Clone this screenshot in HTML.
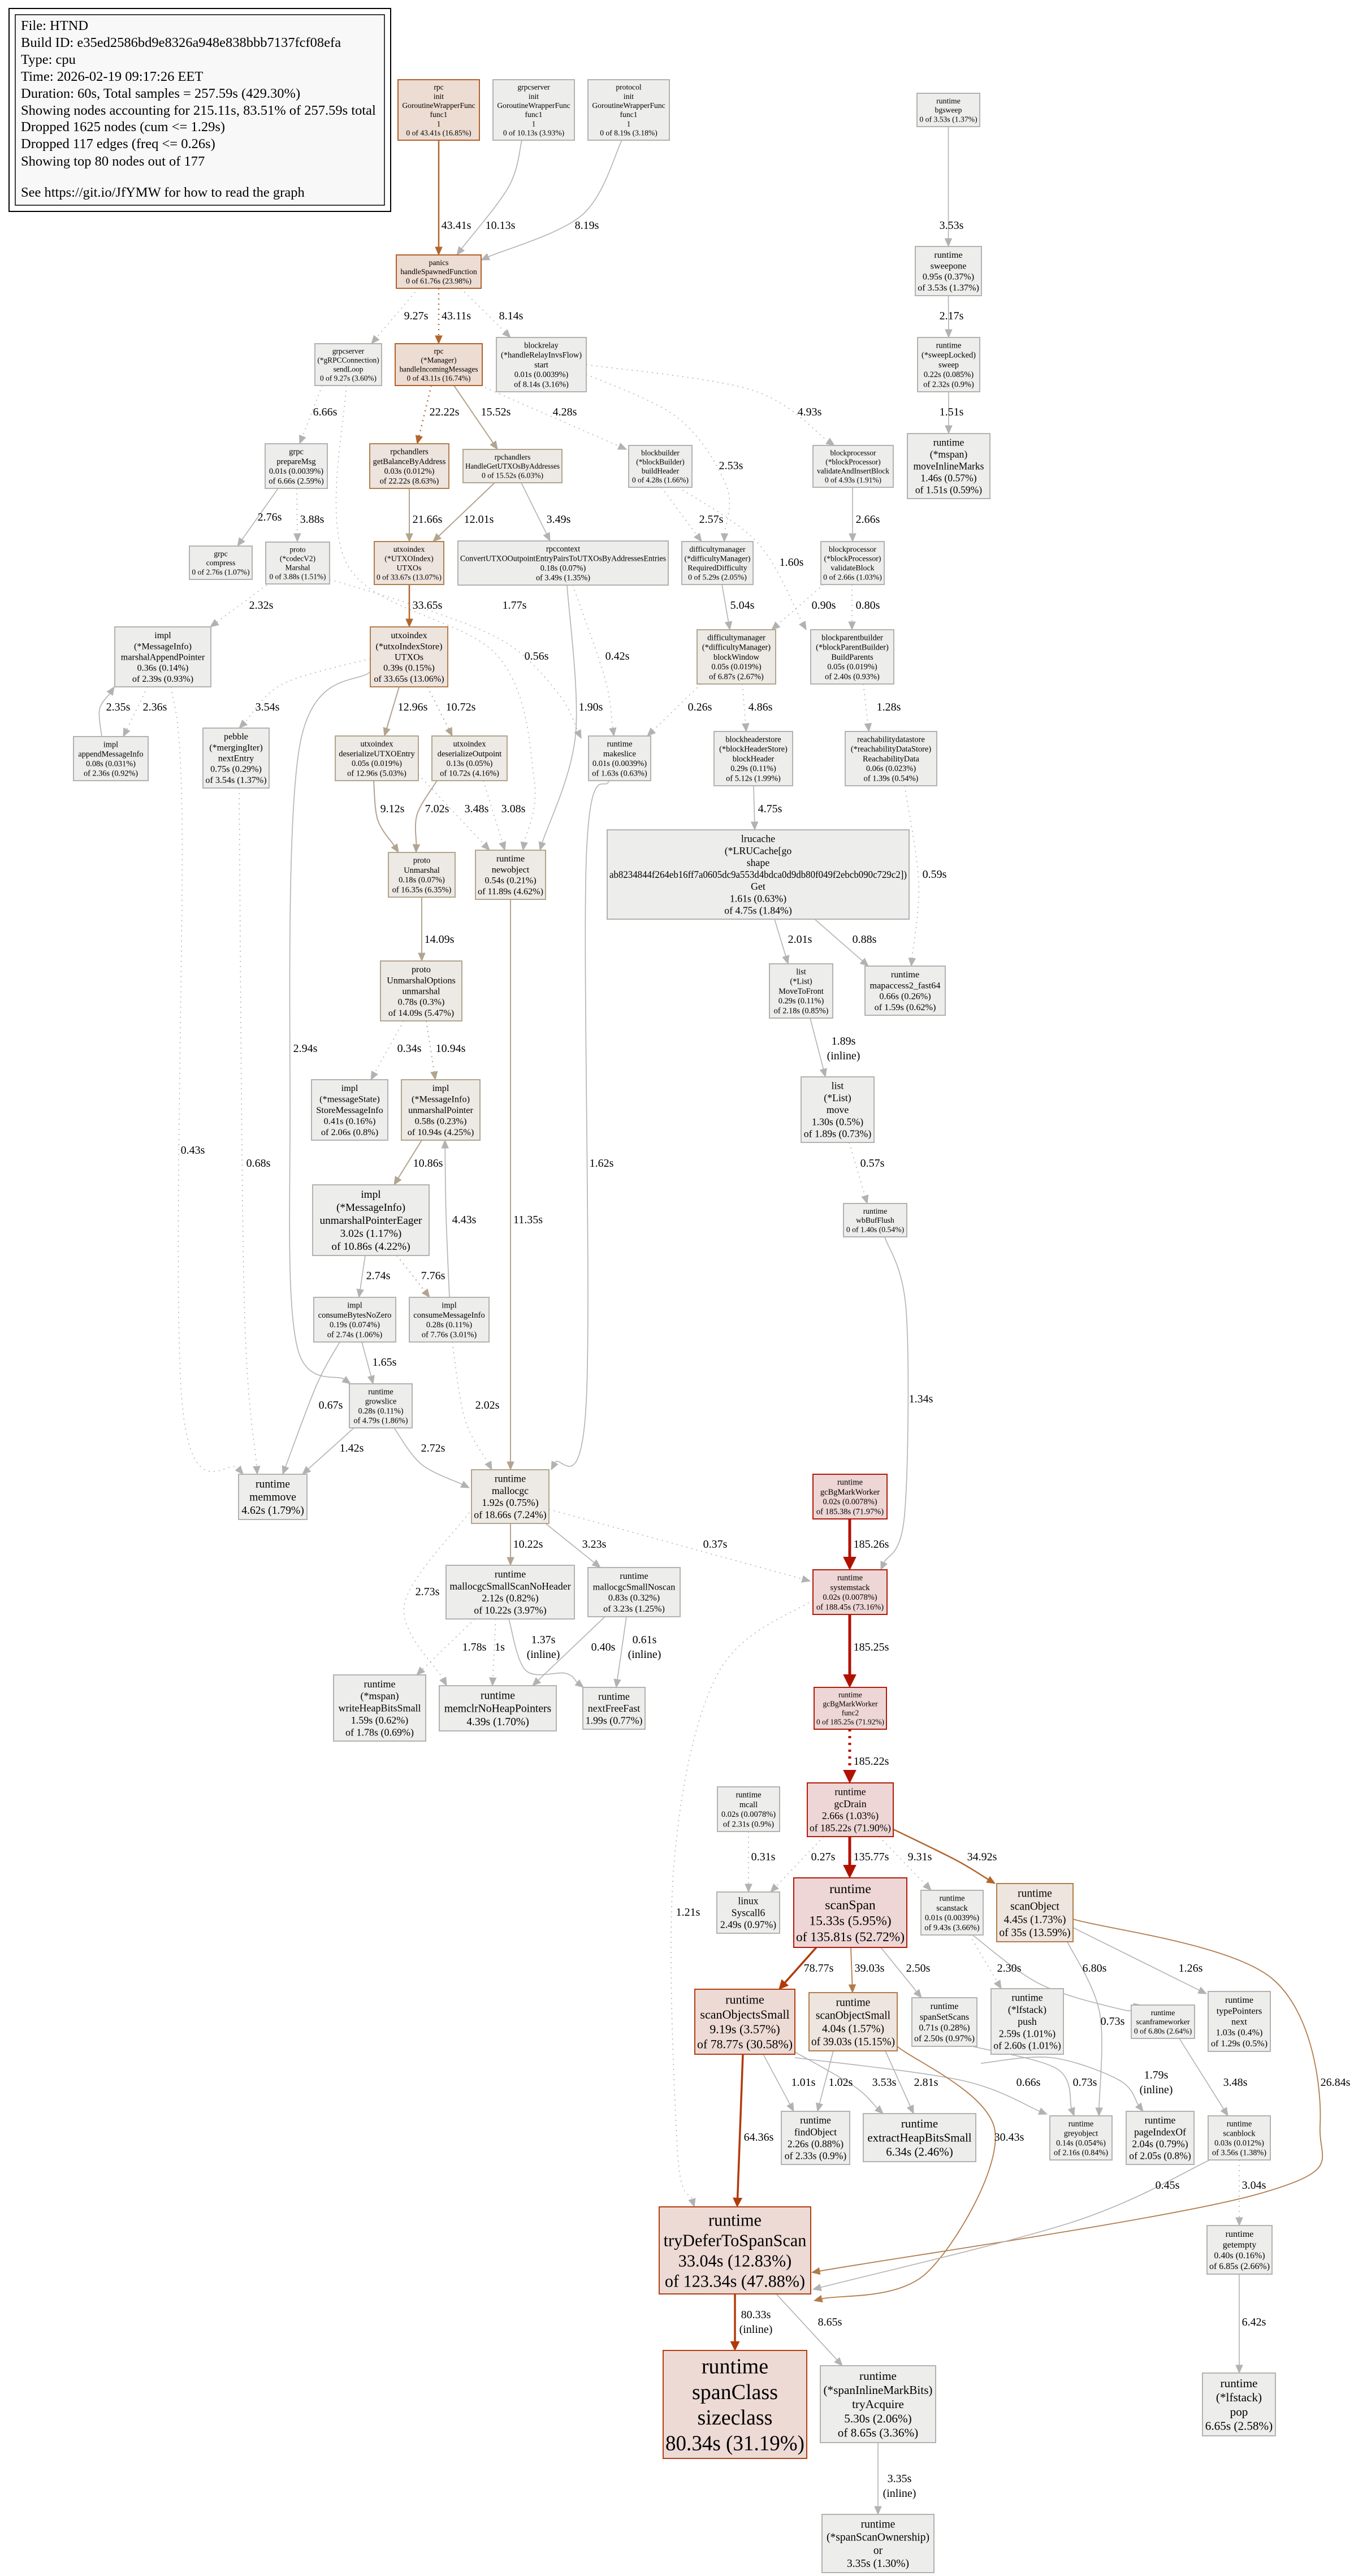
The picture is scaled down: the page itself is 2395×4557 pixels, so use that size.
<!DOCTYPE html>
<html><head><meta charset="utf-8">
<style>
html,body{margin:0;padding:0;background:#fff;}
svg{display:block;}
text{font-family:"Liberation Serif","DejaVu Serif",serif;fill:#000;}
</style></head>
<body>
<svg id="g" xmlns="http://www.w3.org/2000/svg" width="2395" height="4557" viewBox="0 0 2395 4557">
<rect x="0" y="0" width="2395" height="4557" fill="#fff"/>
<rect x="16" y="15" width="675" height="359" fill="#fff" stroke="#000" stroke-width="2"/>
<rect x="27" y="26" width="653" height="337" fill="#f8f8f8" stroke="#000" stroke-width="1.5"/>
<g font-size="24.5">
<text x="37" y="53">File: HTND</text>
<text x="37" y="83">Build ID: e35ed2586bd9e8326a948e838bbb7137fcf08efa</text>
<text x="37" y="113">Type: cpu</text>
<text x="37" y="143">Time: 2026-02-19 09:17:26 EET</text>
<text x="37" y="173">Duration: 60s, Total samples = 257.59s (429.30%)</text>
<text x="37" y="203">Showing nodes accounting for 215.11s, 83.51% of 257.59s total</text>
<text x="37" y="232">Dropped 1625 nodes (cum &lt;= 1.29s)</text>
<text x="37" y="262">Dropped 117 edges (freq &lt;= 0.26s)</text>
<text x="37" y="293">Showing top 80 nodes out of 177</text>
<text x="37" y="348">See https://git.io/JfYMW for how to read the graph</text>
</g>
<g id="edges"></g>
<g id="nodes"></g>
<g id="labels"></g>
</svg>
<script>
var NS="http://www.w3.org/2000/svg";
var ST={
g:["#ededec","#b2b2b2"],t:["#ede9e4","#b2a58f"],o:["#eddcd2","#b2612b"],
m:["#ede4dd","#b27e4e"],r:["#edd6d5","#b21a0a"],d:["#eddad5","#b23f12"],l:["#ede5de","#b27d4a"]};
var N={
rpcinit:[704,141,848,248,"o","rpc|init|GoroutineWrapperFunc|func1|1|0 of 43.41s (16.85%)"],
grpcinit:[872,141,1016,248,"g","grpcserver|init|GoroutineWrapperFunc|func1|1|0 of 10.13s (3.93%)"],
protoinit:[1040,141,1184,248,"g","protocol|init|GoroutineWrapperFunc|func1|1|0 of 8.19s (3.18%)"],
bgsweep:[1622,165,1733,224,"g","runtime|bgsweep|0 of 3.53s (1.37%)"],
panics:[701,451,851,510,"o","panics|handleSpawnedFunction|0 of 61.76s (23.98%)"],
sweepone:[1619,436,1736,523,"g","runtime|sweepone|0.95s (0.37%)|of 3.53s (1.37%)"],
sendLoop:[557,608,675,682,"g","grpcserver|(*gRPCConnection)|sendLoop|0 of 9.27s (3.60%)"],
manager:[699,608,853,682,"o","rpc|(*Manager)|handleIncomingMessages|0 of 43.11s (16.74%)"],
blockrelay:[878,597,1037,693,"g","blockrelay|(*handleRelayInvsFlow)|start|0.01s (0.0039%)|of 8.14s (3.16%)"],
sweepLocked:[1623,597,1733,693,"g","runtime|(*sweepLocked)|sweep|0.22s (0.085%)|of 2.32s (0.9%)"],
prepareMsg:[469,785,579,864,"g","grpc|prepareMsg|0.01s (0.0039%)|of 6.66s (2.59%)"],
getBalance:[654,785,794,864,"m","rpchandlers|getBalanceByAddress|0.03s (0.012%)|of 22.22s (8.63%)"],
handleGet:[819,795,994,854,"t","rpchandlers|HandleGetUTXOsByAddresses|0 of 15.52s (6.03%)"],
blockbuilder:[1112,788,1224,862,"g","blockbuilder|(*blockBuilder)|buildHeader|0 of 4.28s (1.66%)"],
vaib:[1438,788,1580,862,"g","blockprocessor|(*blockProcessor)|validateAndInsertBlock|0 of 4.93s (1.91%)"],
moveInline:[1605,767,1751,882,"g","runtime|(*mspan)|moveInlineMarks|1.46s (0.57%)|of 1.51s (0.59%)"],
compress:[335,966,446,1025,"g","grpc|compress|0 of 2.76s (1.07%)"],
codecV2:[470,959,583,1033,"g","proto|(*codecV2)|Marshal|0 of 3.88s (1.51%)"],
utxoIndex:[662,958,785,1034,"m","utxoindex|(*UTXOIndex)|UTXOs|0 of 33.67s (13.07%)"],
rpccontext:[810,957,1182,1035,"g","rpccontext|ConvertUTXOOutpointEntryPairsToUTXOsByAddressesEntries|0.18s (0.07%)|of 3.49s (1.35%)"],
reqDiff:[1206,958,1332,1034,"g","difficultymanager|(*difficultyManager)|RequiredDifficulty|0 of 5.29s (2.05%)"],
validateBlock:[1452,958,1564,1034,"g","blockprocessor|(*blockProcessor)|validateBlock|0 of 2.66s (1.03%)"],
marshalAppend:[203,1109,373,1215,"g","impl|(*MessageInfo)|marshalAppendPointer|0.36s (0.14%)|of 2.39s (0.93%)"],
utxoStore:[655,1109,792,1215,"m","utxoindex|(*utxoIndexStore)|UTXOs|0.39s (0.15%)|of 33.65s (13.06%)"],
blockWindow:[1233,1114,1372,1210,"t","difficultymanager|(*difficultyManager)|blockWindow|0.05s (0.019%)|of 6.87s (2.67%)"],
bpb:[1434,1114,1581,1210,"g","blockparentbuilder|(*blockParentBuilder)|BuildParents|0.05s (0.019%)|of 2.40s (0.93%)"],
appendMsg:[130,1303,262,1381,"g","impl|appendMessageInfo|0.08s (0.031%)|of 2.36s (0.92%)"],
pebble:[359,1288,476,1394,"g","pebble|(*mergingIter)|nextEntry|0.75s (0.29%)|of 3.54s (1.37%)"],
desUTXO:[593,1302,740,1381,"t","utxoindex|deserializeUTXOEntry|0.05s (0.019%)|of 12.96s (5.03%)"],
desOut:[764,1302,897,1381,"t","utxoindex|deserializeOutpoint|0.13s (0.05%)|of 10.72s (4.16%)"],
makeslice:[1041,1302,1151,1381,"g","runtime|makeslice|0.01s (0.0039%)|of 1.63s (0.63%)"],
bhs:[1263,1294,1402,1390,"g","blockheaderstore|(*blockHeaderStore)|blockHeader|0.29s (0.11%)|of 5.12s (1.99%)"],
reach:[1495,1294,1657,1390,"g","reachabilitydatastore|(*reachabilityDataStore)|ReachabilityData|0.06s (0.023%)|of 1.39s (0.54%)"],
lru:[1074,1468,1608,1626,"g","lrucache|(*LRUCache[go|shape|ab8234844f264eb16ff7a0605dc9a553d4bdca0d9db80f049f2ebcb090c729c2])|Get|1.61s (0.63%)|of 4.75s (1.84%)"],
protoUnm:[687,1508,805,1587,"t","proto|Unmarshal|0.18s (0.07%)|of 16.35s (6.35%)"],
newobject:[841,1504,965,1591,"t","runtime|newobject|0.54s (0.21%)|of 11.89s (4.62%)"],
unmOpts:[673,1700,817,1806,"t","proto|UnmarshalOptions|unmarshal|0.78s (0.3%)|of 14.09s (5.47%)"],
moveToFront:[1361,1705,1473,1801,"g","list|(*List)|MoveToFront|0.29s (0.11%)|of 2.18s (0.85%)"],
mapaccess:[1530,1709,1672,1796,"g","runtime|mapaccess2_fast64|0.66s (0.26%)|of 1.59s (0.62%)"],
storeMsg:[551,1910,686,2017,"g","impl|(*messageState)|StoreMessageInfo|0.41s (0.16%)|of 2.06s (0.8%)"],
unmPtr:[710,1910,849,2017,"t","impl|(*MessageInfo)|unmarshalPointer|0.58s (0.23%)|of 10.94s (4.25%)"],
listMove:[1417,1905,1546,2021,"g","list|(*List)|move|1.30s (0.5%)|of 1.89s (0.73%)"],
unmEager:[553,2096,759,2221,"g","impl|(*MessageInfo)|unmarshalPointerEager|3.02s (1.17%)|of 10.86s (4.22%)"],
wbBuf:[1492,2129,1604,2188,"g","runtime|wbBufFlush|0 of 1.40s (0.54%)"],
consBytes:[555,2295,700,2374,"g","impl|consumeBytesNoZero|0.19s (0.074%)|of 2.74s (1.06%)"],
consMsg:[724,2295,865,2374,"g","impl|consumeMessageInfo|0.28s (0.11%)|of 7.76s (3.01%)"],
growslice:[618,2448,729,2526,"g","runtime|growslice|0.28s (0.11%)|of 4.79s (1.86%)"],
memmove:[422,2608,543,2688,"g","runtime|memmove|4.62s (1.79%)"],
mallocgc:[834,2600,971,2695,"t","runtime|mallocgc|1.92s (0.75%)|of 18.66s (7.24%)"],
gcBgMark:[1438,2608,1569,2687,"r","runtime|gcBgMarkWorker|0.02s (0.0078%)|of 185.38s (71.97%)"],
scanNoHeader:[789,2769,1016,2864,"g","runtime|mallocgcSmallScanNoHeader|2.12s (0.82%)|of 10.22s (3.97%)"],
noscan:[1040,2773,1203,2860,"g","runtime|mallocgcSmallNoscan|0.83s (0.32%)|of 3.23s (1.25%)"],
systemstack:[1438,2777,1569,2856,"r","runtime|systemstack|0.02s (0.0078%)|of 188.45s (73.16%)"],
writeHeap:[590,2963,753,3080,"g","runtime|(*mspan)|writeHeapBitsSmall|1.59s (0.62%)|of 1.78s (0.69%)"],
memclr:[777,2982,984,3062,"g","runtime|memclrNoHeapPointers|4.39s (1.70%)"],
nextFree:[1031,2985,1141,3059,"g","runtime|nextFreeFast|1.99s (0.77%)"],
func2:[1440,2985,1568,3059,"r","runtime|gcBgMarkWorker|func2|0 of 185.25s (71.92%)"],
mcall:[1269,3161,1379,3240,"g","runtime|mcall|0.02s (0.0078%)|of 2.31s (0.9%)"],
gcDrain:[1428,3154,1580,3249,"r","runtime|gcDrain|2.66s (1.03%)|of 185.22s (71.90%)"],
syscall:[1268,3347,1379,3420,"g","linux|Syscall6|2.49s (0.97%)"],
scanSpan:[1404,3322,1604,3445,"r","runtime|scanSpan|15.33s (5.95%)|of 135.81s (52.72%)"],
scanstack:[1629,3344,1739,3423,"g","runtime|scanstack|0.01s (0.0039%)|of 9.43s (3.66%)"],
scanObject:[1763,3332,1898,3435,"l","runtime|scanObject|4.45s (1.73%)|of 35s (13.59%)"],
scanObjsSmall:[1229,3519,1406,3634,"d","runtime|scanObjectsSmall|9.19s (3.57%)|of 78.77s (30.58%)"],
scanObjSmall:[1431,3525,1587,3628,"l","runtime|scanObjectSmall|4.04s (1.57%)|of 39.03s (15.15%)"],
spanSetScans:[1613,3534,1728,3620,"g","runtime|spanSetScans|0.71s (0.28%)|of 2.50s (0.97%)"],
lfpush:[1753,3518,1881,3634,"g","runtime|(*lfstack)|push|2.59s (1.01%)|of 2.60s (1.01%)"],
sfw:[2001,3547,2113,3606,"g","runtime|scanframeworker|0 of 6.80s (2.64%)"],
typePtr:[2137,3523,2247,3629,"g","runtime|typePointers|next|1.03s (0.4%)|of 1.29s (0.5%)"],
findObject:[1382,3735,1503,3829,"g","runtime|findObject|2.26s (0.88%)|of 2.33s (0.9%)"],
extract:[1527,3739,1726,3824,"g","runtime|extractHeapBitsSmall|6.34s (2.46%)"],
greyobject:[1857,3743,1967,3821,"g","runtime|greyobject|0.14s (0.054%)|of 2.16s (0.84%)"],
pageIndex:[1992,3735,2112,3829,"g","runtime|pageIndexOf|2.04s (0.79%)|of 2.05s (0.8%)"],
scanblock:[2137,3743,2247,3821,"g","runtime|scanblock|0.03s (0.012%)|of 3.56s (1.38%)"],
tryDefer:[1166,3904,1434,4058,"d","runtime|tryDeferToSpanScan|33.04s (12.83%)|of 123.34s (47.88%)"],
getempty:[2135,3937,2250,4023,"g","runtime|getempty|0.40s (0.16%)|of 6.85s (2.66%)"],
spanClass:[1173,4158,1427,4349,"d","runtime|spanClass|sizeclass|80.34s (31.19%)"],
tryAcquire:[1451,4185,1655,4321,"g","runtime|(*spanInlineMarkBits)|tryAcquire|5.30s (2.06%)|of 8.65s (3.36%)"],
lfpop:[2127,4198,2256,4309,"g","runtime|(*lfstack)|pop|6.65s (2.58%)"],
spanScanOwn:[1454,4448,1652,4551,"g","runtime|(*spanScanOwnership)|or|3.35s (1.30%)"]
};
var EK={g:["#b2b2b2",1.6,0],gd:["#b2b2b2",1.6,1],t:["#b2a48f",2,0],td:["#b2a48f",2,1],
o:["#b2652c",2.5,0],od:["#b2652c",2.5,1],l:["#b27b4a",1.8,0],r:["#b21100",5,0],rd:["#b21100",5,1],R:["#b23a0a",3.5,0]};
var E=[
["rpcinit","panics","o","43.41s",807,398,[776,248],[776,451]],
["grpcinit","panics","g","10.13s",885,398,[923,248],[808,451],[[900,330]]],
["protoinit","panics","g","8.19s",1038,398,[1100,248],[851,460],[[1030,380]]],
["bgsweep","sweepone","g","3.53s",1683,398],
["sweepone","sweepLocked","g","2.17s",1683,558],
["sweepLocked","moveInline","g","1.51s",1683,728],
["panics","sendLoop","gd","9.27s",736,558,[740,510],[657,608]],
["panics","manager","od","43.11s",807,558,[776,510],[776,608]],
["panics","blockrelay","gd","8.14s",904,558,[815,510],[903,597]],
["sendLoop","prepareMsg","gd","6.66s",575,728,[570,682],[530,785]],
["manager","getBalance","od","22.22s",786,728,[763,682],[738,785]],
["manager","handleGet","t","15.52s",877,728,[803,682],[880,795]],
["manager","blockbuilder","gd","4.28s",999,728,[850,682],[1108,795]],
["blockrelay","vaib","gd","4.93s",1432,728,[1037,645],[1476,788],[[1330,690]]],
["blockrelay","reqDiff","gd","2.53s",1293,823,[1037,662],[1281,958],[[1200,740],[1285,860]]],
["blockbuilder","reqDiff","gd","2.57s",1258,918,[1170,862],[1241,958]],
["blockbuilder","bpb","gd","1.60s",1400,994,[1200,862],[1426,1114],[[1340,960]]],
["vaib","validateBlock","g","2.66s",1535,918,[1508,862],[1508,958]],
["prepareMsg","compress","g","2.76s",477,914,[492,864],[420,966]],
["prepareMsg","codecV2","gd","3.88s",552,918,[525,864],[526,958]],
["getBalance","utxoIndex","t","21.66s",756,918,[724,864],[724,958]],
["handleGet","utxoIndex","t","12.01s",847,918,[875,854],[766,958]],
["handleGet","rpccontext","g","3.49s",988,918,[922,854],[973,957]],
["reqDiff","blockWindow","g","5.04s",1313,1070,[1277,1034],[1291,1114]],
["validateBlock","blockWindow","gd","0.90s",1457,1070,[1457,1034],[1365,1114]],
["validateBlock","bpb","gd","0.80s",1535,1070,[1507,1034],[1507,1114]],
["codecV2","marshalAppend","gd","2.32s",462,1070,[472,1035],[372,1109]],
["codecV2","makeslice","gd","1.77s",910,1070,[583,1025],[1028,1306],[[760,1080],[900,1140],[990,1230]]],
["sendLoop","newobject","gd","0.56s",949,1160,[612,682],[925,1504],[[615,1000],[880,1160],[945,1380]]],
["utxoIndex","utxoStore","o","33.65s",756,1070,[724,1034],[724,1109]],
["rpccontext","newobject","g","1.90s",1045,1250,[1003,1035],[955,1504],[[1018,1300]]],
["rpccontext","makeslice","gd","0.42s",1092,1160,[1013,1035],[1086,1302],[[1070,1200]]],
["blockWindow","makeslice","gd","0.26s",1238,1250,[1240,1210],[1145,1302]],
["blockWindow","bhs","gd","4.86s",1345,1250,[1313,1210],[1320,1294]],
["bpb","reach","gd","1.28s",1572,1250,[1527,1210],[1537,1294]],
["appendMsg","marshalAppend","g","2.35s",209,1250,[180,1303],[202,1215],[[176,1255]]],
["marshalAppend","appendMsg","gd","2.36s",274,1250,[261,1215],[218,1303]],
["utxoStore","pebble","gd","3.54s",473,1250,[655,1165],[423,1288],[[500,1210]]],
["utxoStore","desUTXO","t","12.96s",730,1250,[706,1215],[680,1302]],
["utxoStore","desOut","td","10.72s",815,1250,[756,1215],[800,1302]],
["utxoStore","growslice","g","2.94s",540,1854,[655,1188],[620,2448],[[530,1320],[513,2000],[525,2380]]],
["marshalAppend","memmove","gd","0.43s",341,2034,[303,1215],[430,2608],[[322,1450],[322,2480]]],
["pebble","memmove","gd","0.68s",457,2057,[423,1394],[455,2608],[[432,2300]]],
["desUTXO","protoUnm","t","9.12s",694,1430,[661,1381],[705,1508],[[668,1450]]],
["desOut","protoUnm","t","7.02s",773,1430,[773,1381],[736,1508],[[738,1440]]],
["desUTXO","newobject","gd","3.48s",843,1430,[740,1370],[866,1504]],
["desOut","newobject","gd","3.08s",908,1430,[855,1381],[893,1504]],
["bhs","lru","g","4.75s",1362,1430,[1333,1390],[1335,1468]],
["reach","mapaccess","gd","0.59s",1653,1546,[1600,1390],[1612,1709],[[1625,1560]]],
["makeslice","mallocgc","g","1.62s",1064,2057,[1077,1381],[975,2600],[[1037,1520],[1037,2480]]],
["protoUnm","unmOpts","t","14.09s",777,1661,[746,1587],[746,1700]],
["newobject","mallocgc","t","11.35s",934,2157,[903,1591],[903,2600]],
["lru","moveToFront","g","2.01s",1415,1661,[1370,1626],[1394,1705]],
["lru","mapaccess","g","0.88s",1529,1661,[1441,1626],[1536,1709]],
["moveToFront","listMove","g","1.89s|(inline)",1492,1841,[1433,1801],[1460,1905]],
["listMove","wbBuf","gd","0.57s",1543,2057,[1502,2021],[1534,2129]],
["wbBuf","systemstack","g","1.34s",1629,2474,[1565,2188],[1558,2777],[[1603,2320],[1600,2680]]],
["unmOpts","storeMsg","gd","0.34s",724,1854,[714,1806],[656,1910]],
["unmOpts","unmPtr","td","10.94s",797,1854,[754,1806],[770,1910]],
["unmPtr","unmEager","t","10.86s",757,2057,[746,2017],[697,2096]],
["consMsg","unmPtr","g","4.43s",821,2157,[795,2295],[787,2017],[[789,2150]]],
["unmEager","consBytes","g","2.74s",669,2256,[646,2221],[635,2295]],
["unmEager","consMsg","td","7.76s",766,2256,[702,2221],[760,2295]],
["consBytes","growslice","g","1.65s",680,2409,[640,2374],[660,2448]],
["consBytes","memmove","g","0.67s",585,2485,[601,2374],[500,2608],[[560,2450]]],
["consMsg","mallocgc","gd","2.02s",862,2485,[800,2374],[870,2600],[[822,2510]]],
["growslice","memmove","g","1.42s",622,2561,[626,2526],[535,2608]],
["growslice","mallocgc","g","2.72s",766,2561,[697,2526],[830,2632],[[745,2590]]],
["mallocgc","scanNoHeader","t","10.22s",934,2731,[903,2695],[903,2769]],
["mallocgc","noscan","g","3.23s",1051,2731,[965,2695],[1062,2773]],
["mallocgc","systemstack","gd","0.37s",1265,2731,[971,2670],[1433,2797]],
["mallocgc","memclr","gd","2.73s",756,2815,[830,2676],[790,2982],[[715,2840]]],
["gcBgMark","systemstack","r","185.26s",1541,2731,[1503,2687],[1503,2777]],
["scanNoHeader","writeHeap","gd","1.78s",839,2913,[840,2864],[737,2963]],
["scanNoHeader","memclr","gd","1s",884,2913,[877,2864],[871,2982]],
["scanNoHeader","nextFree","g","1.37s|(inline)",961,2900,[900,2864],[1032,2985],[[930,2955],[1000,2960]]],
["noscan","memclr","g","0.40s",1067,2913,[1070,2860],[942,2982]],
["noscan","nextFree","g","0.61s|(inline)",1140,2900,[1108,2860],[1090,2985]],
["systemstack","func2","r","185.25s",1541,2913,[1503,2856],[1503,2985]],
["systemstack","tryDefer","gd","1.21s",1217,3382,[1438,2830],[1228,3904],[[1270,2960],[1192,3300],[1198,3800]]],
["func2","gcDrain","rd","185.22s",1541,3115,[1503,3059],[1503,3154]],
["mcall","syscall","gd","0.31s",1350,3284,[1324,3240],[1324,3347]],
["gcDrain","syscall","gd","0.27s",1456,3284,[1457,3249],[1363,3347]],
["gcDrain","scanSpan","r","135.77s",1541,3284,[1503,3249],[1503,3322]],
["gcDrain","scanstack","gd","9.31s",1627,3284,[1555,3249],[1647,3344]],
["gcDrain","scanObject","o","34.92s",1737,3284,[1580,3236],[1760,3332],[[1690,3290]]],
["scanSpan","scanObjsSmall","R","78.77s",1448,3481,[1444,3445],[1378,3519]],
["scanSpan","scanObjSmall","l","39.03s",1538,3481,[1505,3445],[1508,3525]],
["scanSpan","spanSetScans","g","2.50s",1624,3481,[1558,3445],[1630,3534]],
["scanstack","lfpush","gd","2.30s",1785,3481,[1715,3423],[1771,3518]],
["scanstack","sfw","g","6.80s",1936,3481,[1720,3423],[2020,3547],[[1840,3510],[1985,3555]]],
["scanObject","greyobject","g","0.73s",1968,3575,[1888,3435],[1944,3743],[[1945,3560]]],
["scanObject","typePtr","g","1.26s",2106,3481,[1898,3410],[2134,3527]],
["scanObject","tryDefer","l","26.84s",2362,3683,[1898,3395],[1436,4020],[[2250,3500],[2335,3760],[2230,3880]]],
["sfw","scanblock","g","3.48s",2185,3683,[2086,3606],[2172,3743]],
["scanObjsSmall","findObject","g","1.01s",1421,3683,[1350,3634],[1404,3735]],
["scanObjSmall","findObject","g","1.02s",1487,3683,[1474,3628],[1446,3735]],
["scanObjsSmall","extract","g","3.53s",1564,3683,[1406,3630],[1562,3739],[[1510,3690]]],
["scanObjSmall","extract","g","2.81s",1638,3683,[1566,3628],[1616,3739]],
["scanObjsSmall","greyobject","g","0.66s",1819,3683,[1406,3640],[1852,3740],[[1700,3680]]],
["spanSetScans","greyobject","g","0.73s",1919,3683,[1720,3620],[1900,3743],[[1870,3660]]],
["spanSetScans","pageIndex","g","1.79s|(inline)",2045,3670,[1735,3650],[2022,3735],[[1860,3640],[1980,3680]]],
["scanObjsSmall","tryDefer","R","64.36s",1342,3780,[1314,3634],[1304,3904]],
["scanObjSmall","tryDefer","l","30.43s",1785,3780,[1587,3620],[1440,4070],[[1760,3770],[1640,4020]]],
["scanblock","tryDefer","g","0.45s",2065,3865,[2140,3821],[1438,4050],[[1900,3930]]],
["scanblock","getempty","gd","3.04s",2218,3865,[2192,3821],[2192,3937]],
["tryDefer","spanClass","R","80.33s|(inline)",1337,4094,[1300,4058],[1300,4158]],
["tryDefer","tryAcquire","g","8.65s",1468,4107,[1373,4058],[1490,4185]],
["getempty","lfpop","g","6.42s",2218,4107,[2192,4023],[2192,4198]],
["tryAcquire","spanScanOwn","g","3.35s|(inline)",1591,4384,[1553,4321],[1553,4448]]
];
function el(t,a,p){var e=document.createElementNS(NS,t);for(var k in a)e.setAttribute(k,a[k]);if(p)p.appendChild(e);return e;}
var gE=document.getElementById("edges"),gN=document.getElementById("nodes"),gL=document.getElementById("labels");
E.forEach(function(e){
 var a=N[e[0]],b=N[e[1]],k=EK[e[2]];
 var s=e[6]||[(a[0]+a[2])/2,a[3]],t=e[7]||[(b[0]+b[2])/2,b[1]];
 var pts=[s].concat(e[8]||[]).concat([t]);
 var p1=pts[pts.length-2],dx=t[0]-p1[0],dy=t[1]-p1[1],L=Math.sqrt(dx*dx+dy*dy)||1;
 var ah=Math.max(14,k[1]*4.5),aw=Math.max(6,k[1]*2.2);
 var ux=dx/L,uy=dy/L;
 var te=[t[0]-ux*ah,t[1]-uy*ah];
 var P=pts.slice();P[P.length-1]=te;
 var d="M"+P[0][0]+","+P[0][1];
 if(P.length==2){d+=" L"+P[1][0]+","+P[1][1];}
 else{for(var i=0;i<P.length-1;i++){var p0=P[i-1]||P[i],q1=P[i],q2=P[i+1],p3=P[i+2]||P[i+1];
  var c1=[q1[0]+(q2[0]-p0[0])/6,q1[1]+(q2[1]-p0[1])/6],c2=[q2[0]-(p3[0]-q1[0])/6,q2[1]-(p3[1]-q1[1])/6];
  d+=" C"+c1[0]+","+c1[1]+" "+c2[0]+","+c2[1]+" "+q2[0]+","+q2[1];}}
 var at={d:d,fill:"none",stroke:k[0],"stroke-width":k[1]};
 if(k[2]){at["stroke-dasharray"]=k[1]>3?"4,8":"2,7";}
 el("path",at,gE);
 var bx=te[0],by=te[1];
 el("polygon",{points:t[0]+","+t[1]+" "+(bx-uy*aw)+","+(by+ux*aw)+" "+(bx+uy*aw)+","+(by-ux*aw),fill:k[0],stroke:k[0]},gE);
 var ls=e[3].split("|");
 ls.forEach(function(l,i){var tx=el("text",{x:e[4],y:e[5]+7+i*26,"font-size":20,"text-anchor":"middle"},gL);tx.textContent=l;});
});
for(var id in N){var n=N[id],st=ST[n[4]];
 var w=n[2]-n[0],h=n[3]-n[1];
 el("rect",{x:n[0],y:n[1],width:w,height:h,fill:st[0],stroke:st[1],"stroke-width":2},gN);
 var ls=n[5].split("|"),lh=(h-10)/ls.length,fs=lh*0.84;
 ls.forEach(function(l,i){
  var y=n[1]+5+lh*(i+0.5)+fs*0.34;
  var tx=el("text",{x:(n[0]+n[2])/2,y:y,"font-size":fs.toFixed(1),"text-anchor":"middle"},gN);
  tx.textContent=l;
  var tl=tx.getComputedTextLength();
  if(tl>w-8){tx.setAttribute("textLength",w-8);tx.setAttribute("lengthAdjust","spacingAndGlyphs");}
 });
}
</script>
</body></html>
